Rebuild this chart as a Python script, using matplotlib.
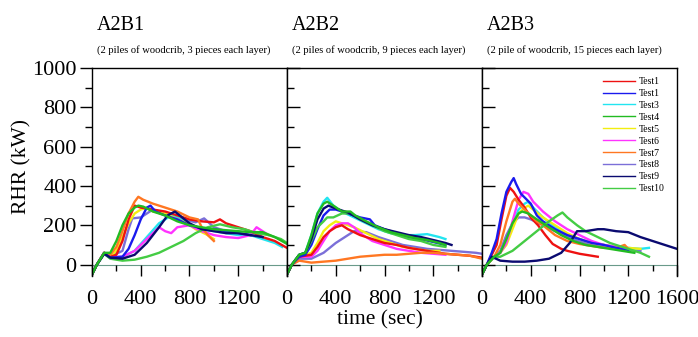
import matplotlib
matplotlib.use("Agg")
import matplotlib.pyplot as plt
import numpy as np
from matplotlib.ticker import MultipleLocator, FixedLocator

plt.rcParams['font.family'] = ['Liberation Serif', 'DejaVu Serif']

panel_titles = ["A2B1", "A2B2", "A2B3"]
panel_subtitles = ["(2 piles of woodcrib, 3 pieces each layer)",
                   "(2 piles of woodcrib, 9 pieces each layer)",
                   "(2 pile of woodcrib, 15 pieces each layer)"]
test_labels = ["Test1", "Test1", "Test3", "Test4", "Test5", "Test6", "Test7", "Test8", "Test9", "Test10"]
test_colors = ['#ee1111', '#1a1aee', '#22e5f0', '#22bb22', '#f2ee10', '#ff33ff', '#ff7722', '#7b6fd8', '#0a0a70', '#44cc44']

# ---------------- Panel A2B1 (time s, RHR kW) ----------------
p1_test1_t = [0, 40, 100, 150, 200, 250, 300, 350, 400, 500, 600, 700, 800, 900, 1000, 1050, 1100, 1200, 1300, 1400, 1500, 1600]
p1_test1_v = [-50, 0, 60, 40, 50, 120, 230, 300, 290, 280, 270, 250, 230, 220, 215, 230, 210, 190, 170, 140, 120, 85]
p1_test1b_t = [0, 40, 100, 150, 250, 300, 350, 400, 450, 480, 520, 600, 700, 800, 900, 1000, 1100, 1200, 1300]
p1_test1b_v = [-50, 0, 60, 35, 40, 80, 150, 230, 290, 300, 270, 250, 230, 200, 185, 180, 170, 160, 150]
p1_test3_t = [0, 40, 100, 150, 250, 350, 450, 550, 650, 700, 800, 900, 1000, 1100, 1200, 1300, 1400, 1500, 1560]
p1_test3_v = [-50, 0, 55, 35, 40, 70, 140, 210, 250, 240, 200, 180, 170, 160, 150, 150, 130, 110, 90]
p1_test4_t = [0, 40, 100, 150, 200, 250, 300, 350, 380, 420, 500, 600, 700, 800, 900, 1000, 1100, 1200, 1300, 1400, 1500, 1600]
p1_test4_v = [-50, 0, 60, 60, 120, 200, 260, 290, 300, 295, 270, 250, 220, 200, 190, 180, 175, 170, 165, 165, 140, 105]
p1_test5_t = [0, 40, 100, 150, 200, 250, 300, 350, 400, 450, 500, 600, 700, 780, 850, 950, 1000]
p1_test5_v = [-50, 0, 60, 40, 70, 140, 210, 260, 280, 290, 270, 260, 230, 210, 180, 150, 130]
p1_test6_t = [0, 40, 100, 150, 250, 350, 450, 550, 600, 650, 700, 800, 900, 1000, 1100, 1200, 1300, 1350, 1400, 1450]
p1_test6_v = [-50, 0, 60, 40, 40, 70, 130, 190, 170, 160, 190, 200, 170, 150, 140, 135, 150, 190, 170, 150]
p1_test7_t = [0, 40, 100, 150, 200, 250, 300, 350, 380, 420, 500, 600, 700, 800, 870, 900, 950, 1000]
p1_test7_v = [-50, 0, 60, 50, 90, 170, 260, 320, 345, 330, 310, 290, 270, 240, 230, 190, 150, 120]
p1_test8_t = [0, 40, 100, 150, 250, 300, 330, 400, 450, 500, 550, 650, 750, 850, 920, 1000, 1100, 1200, 1300, 1400]
p1_test8_v = [-50, 0, 60, 40, 70, 180, 235, 240, 260, 280, 270, 240, 230, 215, 235, 190, 170, 160, 150, 140]
p1_test9_t = [0, 40, 100, 150, 250, 350, 450, 550, 620, 680, 720, 800, 900, 1000, 1100, 1200, 1300, 1400]
p1_test9_v = [-50, 0, 55, 35, 30, 50, 110, 190, 250, 270, 250, 210, 180, 170, 160, 160, 150, 140]
p1_test10_t = [0, 40, 100, 150, 250, 350, 450, 550, 650, 750, 850, 950, 1050, 1150, 1250, 1350, 1450, 1550, 1600]
p1_test10_v = [-50, 0, 55, 30, 20, 25, 40, 60, 90, 120, 160, 190, 205, 190, 180, 160, 150, 130, 110]

# ---------------- Panel A2B2 ----------------
p2_test1_t = [0, 40, 100, 200, 250, 300, 350, 400, 450, 500, 600, 700, 800, 900, 1000, 1100, 1200, 1300, 1400, 1500, 1600]
p2_test1_v = [-50, 0, 40, 50, 90, 140, 170, 190, 200, 180, 150, 130, 110, 100, 85, 75, 65, 55, 50, 45, 35]
p2_test1b_t = [0, 40, 100, 150, 200, 250, 300, 350, 400, 500, 600, 680, 720, 800, 900, 1000, 1100, 1200, 1300]
p2_test1b_v = [-50, 0, 40, 50, 100, 180, 250, 280, 280, 260, 240, 230, 200, 180, 160, 140, 130, 115, 100]
p2_test3_t = [0, 40, 100, 150, 200, 250, 300, 330, 380, 450, 550, 650, 750, 850, 950, 1050, 1150, 1250, 1300]
p2_test3_v = [-50, 0, 50, 60, 150, 260, 320, 340, 300, 270, 240, 210, 180, 160, 150, 150, 155, 140, 130]
p2_test4_t = [0, 40, 100, 150, 200, 250, 300, 330, 380, 450, 520, 560, 650, 750, 850, 950, 1050, 1150, 1250, 1300]
p2_test4_v = [-50, 0, 50, 60, 150, 260, 310, 320, 300, 270, 270, 250, 220, 190, 165, 150, 135, 125, 110, 100]
p2_test5_t = [0, 40, 100, 200, 250, 300, 350, 400, 450, 550, 650, 750, 850, 950, 1050, 1150, 1250]
p2_test5_v = [-50, 0, 40, 60, 110, 170, 200, 220, 210, 190, 160, 130, 110, 90, 80, 70, 70]
p2_test6_t = [0, 40, 100, 200, 250, 300, 350, 400, 450, 500, 550, 600, 700, 800, 900, 1000, 1100, 1200, 1300]
p2_test6_v = [-50, 0, 40, 40, 70, 120, 170, 200, 210, 210, 190, 160, 120, 100, 80, 70, 60, 55, 50]
p2_test7_t = [0, 40, 100, 200, 300, 400, 500, 600, 700, 800, 900, 1000, 1100, 1200, 1300, 1400, 1500, 1600]
p2_test7_v = [-50, 0, 20, 10, 15, 20, 30, 40, 45, 50, 50, 55, 60, 60, 55, 50, 45, 30]
p2_test8_t = [0, 40, 100, 200, 300, 400, 500, 550, 650, 750, 850, 950, 1050, 1150, 1250, 1350, 1450, 1550, 1600]
p2_test8_v = [-50, 0, 30, 30, 60, 110, 150, 170, 165, 140, 120, 100, 90, 80, 75, 70, 65, 60, 55]
p2_test9_t = [0, 40, 100, 150, 200, 250, 300, 340, 380, 450, 500, 600, 700, 800, 900, 1000, 1100, 1200, 1300, 1350]
p2_test9_v = [-50, 0, 50, 60, 130, 230, 285, 300, 290, 275, 265, 230, 200, 180, 165, 150, 140, 125, 110, 100]
p2_test10_t = [0, 40, 100, 150, 200, 250, 300, 330, 380, 450, 520, 600, 700, 800, 900, 1000, 1100, 1200, 1300]
p2_test10_v = [-50, 0, 50, 60, 120, 190, 220, 240, 240, 260, 260, 230, 200, 170, 150, 130, 120, 100, 90]

# ---------------- Panel A2B3 ----------------
p3_test1_t = [0, 40, 80, 120, 160, 200, 230, 260, 300, 350, 400, 460, 520, 580, 650, 700, 800, 900, 950]
p3_test1_v = [-50, 0, 50, 100, 230, 350, 390, 370, 330, 290, 240, 200, 150, 105, 80, 70, 55, 45, 40]
p3_test1b_t = [0, 40, 80, 120, 160, 200, 240, 260, 280, 320, 400, 450, 500, 600, 700, 800, 900, 1000, 1100, 1200]
p3_test1b_v = [-50, 0, 60, 130, 260, 370, 420, 440, 410, 360, 310, 250, 220, 180, 150, 130, 110, 100, 85, 75]
p3_test3_t = [0, 40, 100, 150, 200, 250, 300, 350, 380, 420, 500, 600, 700, 800, 900, 1000, 1100, 1200, 1300, 1370]
p3_test3_v = [-50, 0, 40, 60, 120, 200, 280, 310, 320, 290, 240, 190, 150, 130, 110, 100, 90, 85, 80, 85]
p3_test4_t = [0, 40, 100, 150, 200, 250, 300, 330, 380, 450, 550, 650, 750, 850, 950, 1050, 1150, 1250]
p3_test4_v = [-50, 0, 40, 60, 130, 210, 260, 270, 260, 230, 190, 150, 120, 100, 90, 80, 70, 60]
p3_test5_t = [0, 40, 100, 150, 200, 250, 300, 350, 380, 420, 500, 600, 700, 800, 900, 1000, 1100, 1200, 1300]
p3_test5_v = [-50, 0, 40, 60, 100, 180, 260, 290, 300, 280, 240, 200, 160, 130, 110, 100, 90, 85, 80]
p3_test6_t = [0, 40, 100, 150, 200, 250, 300, 340, 380, 420, 500, 600, 700, 800, 900, 1000, 1100, 1200]
p3_test6_v = [-50, 0, 40, 60, 110, 220, 330, 370, 360, 320, 270, 220, 180, 150, 120, 100, 90, 80]
p3_test7_t = [0, 40, 100, 150, 200, 250, 270, 300, 350, 400, 450, 500, 600, 700, 800, 900, 1000, 1100, 1170, 1200]
p3_test7_v = [-50, 0, 40, 100, 220, 320, 335, 310, 280, 250, 220, 200, 150, 120, 105, 95, 85, 85, 100, 80]
p3_test8_t = [0, 40, 100, 150, 200, 250, 300, 350, 400, 500, 600, 700, 800, 900, 1000, 1100, 1200, 1300]
p3_test8_v = [-50, 0, 40, 70, 150, 210, 240, 240, 230, 200, 170, 140, 120, 100, 90, 80, 75, 70]
p3_test9_t = [0, 40, 80, 150, 250, 350, 450, 550, 650, 720, 780, 850, 950, 1000, 1100, 1200, 1300, 1400, 1500, 1600]
p3_test9_v = [-50, 0, 40, 20, 15, 15, 20, 30, 60, 110, 170, 170, 180, 180, 170, 165, 140, 120, 100, 80]
p3_test10_t = [0, 40, 100, 150, 250, 350, 450, 550, 620, 660, 700, 780, 850, 950, 1050, 1150, 1250, 1300, 1370]
p3_test10_v = [-50, 0, 40, 40, 70, 120, 170, 220, 250, 265, 240, 200, 170, 140, 110, 90, 70, 60, 40]

panels = [
    [(p1_test1_t, p1_test1_v), (p1_test1b_t, p1_test1b_v), (p1_test3_t, p1_test3_v), (p1_test4_t, p1_test4_v),
     (p1_test5_t, p1_test5_v), (p1_test6_t, p1_test6_v), (p1_test7_t, p1_test7_v), (p1_test8_t, p1_test8_v),
     (p1_test9_t, p1_test9_v), (p1_test10_t, p1_test10_v)],
    [(p2_test1_t, p2_test1_v), (p2_test1b_t, p2_test1b_v), (p2_test3_t, p2_test3_v), (p2_test4_t, p2_test4_v),
     (p2_test5_t, p2_test5_v), (p2_test6_t, p2_test6_v), (p2_test7_t, p2_test7_v), (p2_test8_t, p2_test8_v),
     (p2_test9_t, p2_test9_v), (p2_test10_t, p2_test10_v)],
    [(p3_test1_t, p3_test1_v), (p3_test1b_t, p3_test1b_v), (p3_test3_t, p3_test3_v), (p3_test4_t, p3_test4_v),
     (p3_test5_t, p3_test5_v), (p3_test6_t, p3_test6_v), (p3_test7_t, p3_test7_v), (p3_test8_t, p3_test8_v),
     (p3_test9_t, p3_test9_v), (p3_test10_t, p3_test10_v)],
]
# draw order so that dark / green curves sit on top as in the original
draw_order = [7, 2, 4, 5, 0, 6, 1, 9, 8, 3]

x_ticks_12 = [0, 400, 800, 1200]
x_ticks_3 = [0, 400, 800, 1200, 1600]
y_ticks = [0, 200, 400, 600, 800, 1000]

W, H = 698, 337
fig = plt.figure(figsize=(W / 100, H / 100), dpi=100)
lefts = [92, 287, 482]
pw = 195
top_px, bot_px = 68, 276
axes = []
for i, lp in enumerate(lefts):
    ax = fig.add_axes([lp / W, 1 - bot_px / H, pw / W, (bot_px - top_px) / H])
    axes.append(ax)
    for k in draw_order:
        t, v = panels[i][k]
        ax.plot(t, v, color=test_colors[k], lw=1.7, solid_joinstyle='round', clip_on=True)
    ax.set_xlim(0, 1600)
    ax.set_ylim(-58, 1000)
    ax.spines['bottom'].set_position(('data', 0))
    ax.spines['bottom'].set_color('#6a9a8a')
    ax.spines['bottom'].set_zorder(0)
    for s in ['left', 'right', 'top']:
        ax.spines[s].set_linewidth(1.0)
    ax.xaxis.set_major_locator(FixedLocator(x_ticks_3 if i == 2 else x_ticks_12))
    ax.xaxis.set_minor_locator(MultipleLocator(200))
    ax.yaxis.set_major_locator(FixedLocator(y_ticks))
    ax.yaxis.set_minor_locator(MultipleLocator(100))
    ax.tick_params(axis='x', which='major', direction='out', length=8, width=1, labelsize=16, pad=10)
    ax.tick_params(axis='x', which='minor', direction='out', length=4, width=1)
    if i == 0:
        ax.tick_params(axis='y', which='major', direction='out', length=9, width=1, labelsize=16, pad=2)
        ax.tick_params(axis='y', which='minor', direction='out', length=5, width=1)
    else:
        ax.tick_params(axis='y', which='major', direction='in', length=9, width=1, labelleft=False)
        ax.tick_params(axis='y', which='minor', direction='in', length=5, width=1)
    fig.text((lp + 5) / W, 1 - 26 / H, panel_titles[i], fontsize=14.5, ha='left', va='center')
    fig.text((lp + 5) / W, 1 - 50 / H, panel_subtitles[i], fontsize=7.6, ha='left', va='center')

fig.text(22 / W, 1 - 167 / H, "RHR (kW)", fontsize=15.5, rotation=90, ha='center', va='center')
fig.text(380 / W, 1 - 320 / H, "time (sec)", fontsize=15.5, ha='center', va='center')

handles = [plt.Line2D([], [], color=c, lw=1.0) for c in test_colors]
axes[2].legend(handles, test_labels, loc='upper left', bbox_to_anchor=(603 / W, 1 - 77 / H),
               bbox_transform=fig.transFigure, frameon=False, fontsize=7, handlelength=3.3,
               handletextpad=0.4, labelspacing=0.3, borderpad=0, borderaxespad=0)

fig.savefig("out.png", dpi=100)
